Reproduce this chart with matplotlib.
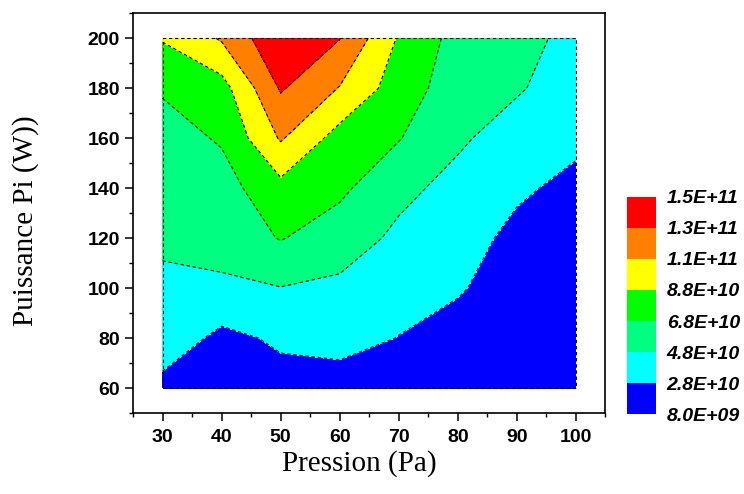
# -*- coding: UTF-8 -*-
# Carte de contour : densité en fonction de la pression et de la puissance
import numpy as np
import matplotlib
matplotlib.use('Agg')
import matplotlib.pyplot as plt
from matplotlib.ticker import MultipleLocator, FuncFormatter

# axes des données
pression = [30, 40, 50, 60, 70, 80, 90, 100]          # Pa
puissance = [60, 80, 100, 120, 140, 160, 180, 200]    # W

z_p60 = [2.2, 1.5, 2.1, 1.9, 1.6, 1.0, 0.9, 0.9]
z_p80 = [4.0, 2.3, 3.1, 3.5, 2.75, 2.0, 1.3, 1.1]
z_p100 = [4.5, 4.4, 4.75, 4.4, 3.6, 3.0, 1.8, 1.4]
z_p120 = [5.05, 5.67, 6.9, 5.8, 4.4, 3.6, 2.3, 1.8]
z_p140 = [5.5, 6.0, 8.2, 7.2, 5.3, 4.2, 3.1, 2.3]
z_p160 = [6.0, 7.0, 11.0, 8.0, 6.9, 5.1, 3.9, 3.2]
z_p180 = [7.0, 8.0, 13.0, 10.7, 7.8, 5.8, 5.0, 3.8]
z_p200 = [8.95, 11.0, 14.5, 12.85, 8.6, 6.1, 5.6, 4.1]

# niveaux de la barre de couleur
niveaux = [0.8e10, 2.8e10, 4.8e10, 6.8e10, 8.8e10, 10.8e10, 12.8e10, 14.8e10]
couleurs = ['#0000FF', '#00FFFF', '#00FF80', '#00FF00',
            '#FFFF00', '#FF8000', '#FF0000']

Z = np.array([z_p60, z_p80, z_p100, z_p120, z_p140,
              z_p160, z_p180, z_p200]) * 1e10
X, Y = np.meshgrid(pression, puissance)

fig = plt.figure(figsize=(7.44, 4.94), dpi=100)
ax = fig.add_axes([0.1788, 0.164, 0.635, 0.809])
cax = fig.add_axes([0.8423, 0.1613, 0.039, 0.4405])

cf = ax.contourf(X, Y, Z, levels=niveaux, colors=couleurs)
cs = ax.contour(X, Y, Z, levels=niveaux, colors='k', linewidths=0.8)
cs.set_linestyle((0, (3, 2.5)))

# cadre pointillé autour de la zone de données
x0, x1 = min(pression), max(pression)
y0, y1 = min(puissance), max(puissance)
ax.plot([x0, x1, x1, x0, x0], [y0, y0, y1, y1, y0], color='k',
        lw=0.8, dashes=(3, 2.5))

ax.set_xlim(25, 105)
ax.set_ylim(50, 210)
ax.xaxis.set_major_locator(MultipleLocator(10))
ax.xaxis.set_minor_locator(MultipleLocator(5))
ax.yaxis.set_major_locator(MultipleLocator(20))
ax.yaxis.set_minor_locator(MultipleLocator(10))
ax.set_xticks(range(30, 101, 10))
ax.set_yticks(range(60, 201, 20))

ax.tick_params(which='major', direction='out', length=5.5, width=1.1)
ax.tick_params(which='minor', direction='out', length=3, width=1.0)
ax.tick_params(axis='x', which='major', pad=6)
ax.tick_params(axis='y', which='major', pad=4)
for lab in ax.get_xticklabels() + ax.get_yticklabels():
    lab.set_fontfamily('Liberation Sans')
    lab.set_fontweight('bold')
    lab.set_fontsize(14)
for sp in ax.spines.values():
    sp.set_linewidth(1.2)

ax.set_xlabel('Pression (Pa)', fontfamily='Liberation Serif', fontsize=21)
ax.set_ylabel('Puissance Pi (W))', fontfamily='Liberation Serif', fontsize=21)
ax.xaxis.set_label_coords(0.48, -0.093)
ax.yaxis.set_label_coords(-0.20, 0.481)

# barre de couleur
cb = fig.colorbar(cf, cax=cax, ticks=niveaux)
cb.outline.set_visible(False)
cb.ax.yaxis.set_major_formatter(FuncFormatter(lambda v, p: '%.1E' % v))
cb.ax.tick_params(length=0, pad=8)
cb.ax.minorticks_off()
for lab in cb.ax.get_yticklabels():
    lab.set_fontfamily('Liberation Sans')
    lab.set_fontweight('bold')
    lab.set_fontstyle('italic')
    lab.set_fontsize(14)

fig.savefig('out.png', dpi=100)
